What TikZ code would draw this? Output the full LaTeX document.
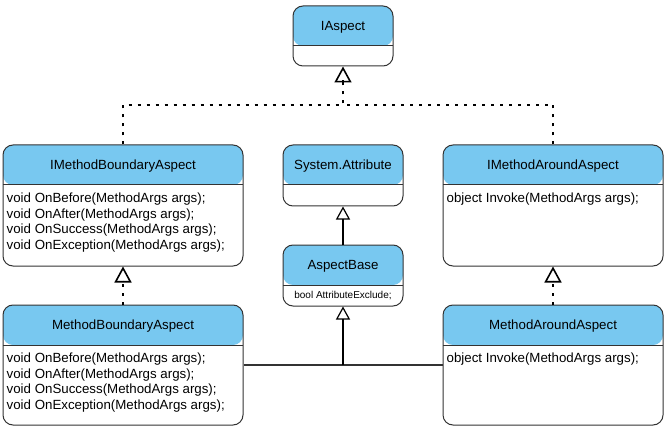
\documentclass[tikz,border=0pt]{standalone}
\usepackage{fontspec}
\setmainfont{Liberation Sans}
\usetikzlibrary{arrows.meta}
\definecolor{headblue}{RGB}{120,200,240}
\definecolor{edgegray}{RGB}{51,51,51}

\begin{document}
\begin{tikzpicture}[x=1pt,y=-1pt,
    every node/.style={inner sep=0pt},
    class/.style={draw=edgegray, line width=1pt, fill=white, rounded corners=10pt,
      path picture={
        \fill[headblue] (path picture bounding box.north west) rectangle ([yshift=-40pt]path picture bounding box.north east);
        \draw[edgegray, line width=1pt] ([yshift=-40pt]path picture bounding box.north west) -- ([yshift=-40pt]path picture bounding box.north east);}},
    title/.style={anchor=base, font=\fontsize{13.3pt}{15.5pt}\selectfont},
    members/.style={anchor=north west, align=left, font=\fontsize{13.3pt}{15.5pt}\selectfont},
    dashline/.style={line width=2pt, dash pattern=on 3pt off 6pt},
    realtip/.style={line width=1.6pt, -{Triangle[open, length=16pt, width=17pt]}},
    inherit/.style={line width=1.2pt, -{Triangle[open, length=13pt, width=14pt]}}
  ]
  \useasboundingbox (0,0) rectangle (668,430);

  \node[class, minimum width=100pt, minimum height=60pt] (iaspect) at (343,36) {};
  \node[title] (iaspect-title) at ([yshift=-25pt]iaspect.north) {IAspect};

  \node[class, minimum width=240pt, minimum height=121pt] (imethodboundary) at (123,205.5) {};
  \node[title] (imethodboundary-title) at ([yshift=-25pt]imethodboundary.north) {IMethodBoundaryAspect};
  \node[members] (imethodboundary-members) at ([xshift=4pt,yshift=-48.5pt]imethodboundary.north west)
    {void OnBefore(MethodArgs args);\\void OnAfter(MethodArgs args);\\void OnSuccess(MethodArgs args);\\void OnException(MethodArgs args);};

  \node[class, minimum width=120pt, minimum height=61pt] (sysattribute) at (343,175.5) {};
  \node[title] (sysattribute-title) at ([yshift=-25pt]sysattribute.north) {System.Attribute};

  \node[class, minimum width=220pt, minimum height=121pt] (imethodaround) at (553,205.5) {};
  \node[title] (imethodaround-title) at ([yshift=-25pt]imethodaround.north) {IMethodAroundAspect};
  \node[members] (imethodaround-members) at ([xshift=4pt,yshift=-48.5pt]imethodaround.north west)
    {object Invoke(MethodArgs args);};

  \node[class, minimum width=120pt, minimum height=61pt] (aspectbase) at (343,275.5) {};
  \node[title] (aspectbase-title) at ([yshift=-25pt]aspectbase.north) {AspectBase};
  \node[font=\fontsize{10pt}{12pt}\selectfont] (aspectbase-members) at ([yshift=-51pt]aspectbase.north) {bool AttributeExclude;};

  \node[class, minimum width=240pt, minimum height=120pt] (methodboundary) at (123,365) {};
  \node[title] (methodboundary-title) at ([yshift=-25pt]methodboundary.north) {MethodBoundaryAspect};
  \node[members] (methodboundary-members) at ([xshift=4pt,yshift=-48.5pt]methodboundary.north west)
    {void OnBefore(MethodArgs args);\\void OnAfter(MethodArgs args);\\void OnSuccess(MethodArgs args);\\void OnException(MethodArgs args);};

  \node[class, minimum width=220pt, minimum height=120pt] (methodaround) at (553,365) {};
  \node[title] (methodaround-title) at ([yshift=-25pt]methodaround.north) {MethodAroundAspect};
  \node[members] (methodaround-members) at ([xshift=4pt,yshift=-48.5pt]methodaround.north west)
    {object Invoke(MethodArgs args);};

  \coordinate (fork) at (343,105);
  \coordinate (join) at (aspectbase.south |- methodboundary.east);

  \draw[dashline] (imethodboundary.north) |- (fork) -- ([yshift=-14pt]iaspect.south);
  \draw[realtip] ([yshift=-14pt]iaspect.south) -- (iaspect.south);
  \draw[dashline] (imethodaround.north) |- (fork);
  \draw[dashline] (methodboundary.north) -- ([yshift=-14pt]imethodboundary.south);
  \draw[realtip] ([yshift=-14pt]imethodboundary.south) -- (imethodboundary.south);
  \draw[dashline] (methodaround.north) -- ([yshift=-14pt]imethodaround.south);
  \draw[realtip] ([yshift=-14pt]imethodaround.south) -- (imethodaround.south);
  \draw[inherit] (aspectbase.north) -- (sysattribute.south);
  \draw[line width=1.2pt, edgegray] (methodboundary.east) -- (methodaround.west);
  \draw[inherit] (join) -- (aspectbase.south);
\end{tikzpicture}
\end{document}
